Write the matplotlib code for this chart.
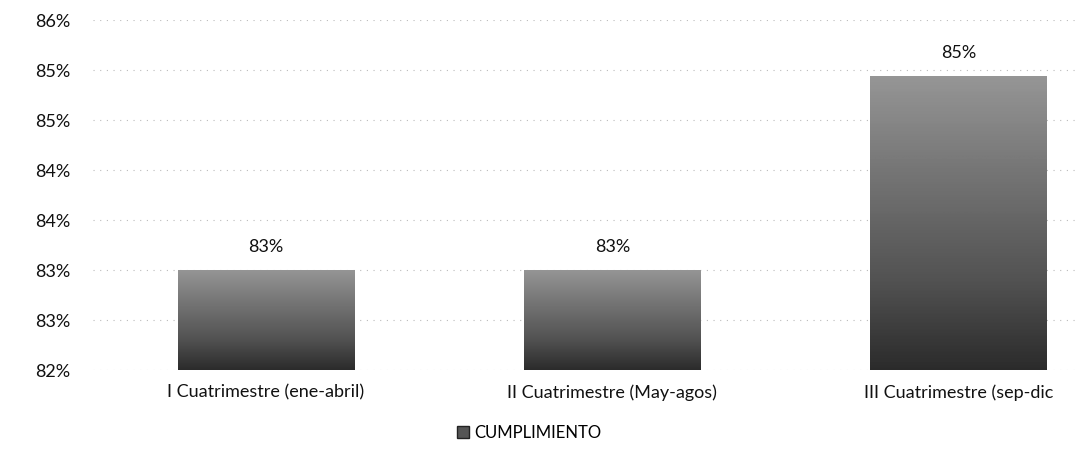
import numpy as np
import matplotlib
matplotlib.use("Agg")
import matplotlib.pyplot as plt
from matplotlib.ticker import FuncFormatter, MultipleLocator
from matplotlib.patches import Patch

plt.rcParams['font.family'] = ['Lato', 'DejaVu Sans']

categorias = ["I Cuatrimestre (ene-abril)", "II Cuatrimestre (May-agos)", "III Cuatrimestre (sep-dic"]
cumplimiento = [0.83, 0.83, 0.8494]
etiquetas = ["83%", "83%", "85%"]

fig = plt.figure(figsize=(10.8, 4.68), dpi=100)
ax = fig.add_axes([0.086, 0.209, 0.962, 0.748])

x = np.arange(len(categorias))
bars = ax.bar(x, cumplimiento, width=0.51, color="#666666", zorder=2)

ax.set_ylim(0.82, 0.855)
ax.set_xlim(-0.5, 2.5)

# gradient fill like the scanned Excel bars
grad = np.linspace(0, 1, 256).reshape(-1, 1)
for b in bars:
    b.set_facecolor("none")
    x0, y0 = b.get_x(), b.get_y()
    w, h = b.get_width(), b.get_height()
    im = ax.imshow(grad, extent=[x0, x0 + w, 0.82, y0 + h], origin="lower",
                   cmap="Greys_r", vmin=-0.4, vmax=2.4, aspect="auto", zorder=2)
    im.set_clip_path(b)

for xi, v, t in zip(x, cumplimiento, etiquetas):
    ax.annotate(t, (xi, v), xytext=(0, 11), textcoords="offset points",
                ha="center", va="bottom", fontsize=13, color="#111111")

ax.yaxis.set_major_locator(MultipleLocator(0.005))
ax.yaxis.set_major_formatter(FuncFormatter(lambda v, p: "%d%%" % round(v * 100 + 1e-9)))
ax.set_xticks(x)
ax.set_xticklabels(categorias)
ax.tick_params(axis="both", length=0, labelsize=13, colors="#111111")
ax.tick_params(axis="y", pad=16)
ax.tick_params(axis="x", pad=10)

ax.grid(axis="y", linestyle=(0, (1, 5)), color="#bbbbbb", linewidth=0.8, zorder=0)
for s in ax.spines.values():
    s.set_visible(False)

fig.legend(handles=[Patch(facecolor="#555555", edgecolor="#222222", label="CUMPLIMIENTO")],
           loc="center", bbox_to_anchor=(0.49, 0.075), frameon=False, fontsize=12,
           handlelength=0.7, handleheight=0.7, handletextpad=0.3)

fig.savefig("out.png", dpi=100)
